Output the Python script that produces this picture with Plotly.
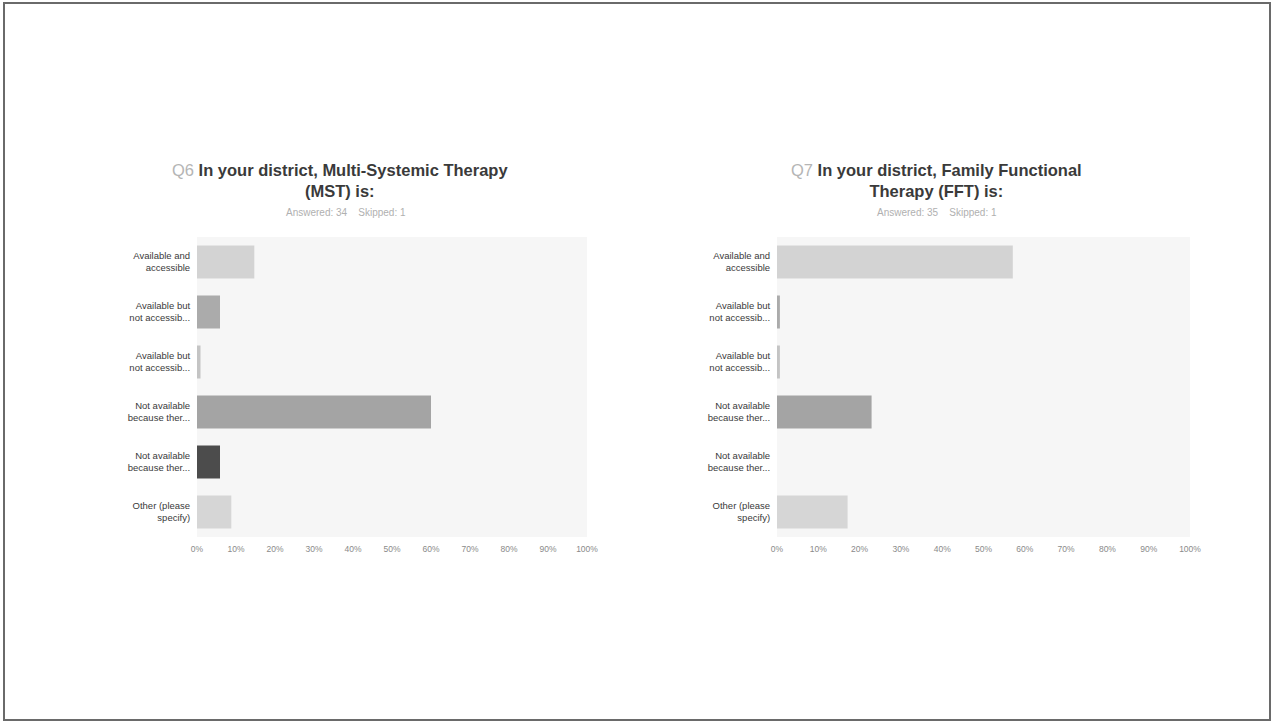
import plotly.graph_objects as go
from plotly.subplots import make_subplots

categories = ["Available and<br>accessible", "Available but<br>not accessib...",
              "Available but<br>not accessib...", "Not available<br>because ther...",
              "Not available<br>because ther...", "Other (please<br>specify)"]
mst_values = [14.7, 5.9, 0.9, 60.0, 5.9, 8.8]
fft_values = [57.1, 0.7, 0.7, 22.9, 0.0, 17.1]
x_ticks = [0, 10, 20, 30, 40, 50, 60, 70, 80, 90, 100]
x_tick_labels = ["0%", "10%", "20%", "30%", "40%", "50%", "60%", "70%", "80%", "90%", "100%"]
mst_colors = ["#d3d3d3", "#ababab", "#c4c4c4", "#a4a4a4", "#4c4c4c", "#d6d6d6"]
fft_colors = ["#d3d3d3", "#ababab", "#c4c4c4", "#a4a4a4", "#4c4c4c", "#d6d6d6"]

W, H = 1273, 723
L, R, T, B = 197, 83, 237, 186
PW, PH = W - L - R, H - T - B


def px(x):
    return (x - L) / PW


def py(y):
    return (H - B - y) / PH


fig = make_subplots(rows=1, cols=2)
ypos = list(range(len(categories)))

fig.add_trace(go.Bar(x=mst_values, y=ypos, orientation="h", width=0.66,
                     marker=dict(color=mst_colors, line=dict(width=0)),
                     showlegend=False), row=1, col=1)
fig.add_trace(go.Bar(x=fft_values, y=ypos, orientation="h", width=0.66,
                     marker=dict(color=fft_colors, line=dict(width=0)),
                     showlegend=False), row=1, col=2)

fig.update_layout(
    width=W, height=H,
    margin=dict(l=L, r=R, t=T, b=B, autoexpand=False),
    paper_bgcolor="white", plot_bgcolor="#f6f6f6",
    font=dict(family="Liberation Sans, Arial, sans-serif"),
    xaxis=dict(domain=[0, px(587)]),
    xaxis2=dict(domain=[px(777), 1]),
)

for ax in ["xaxis", "xaxis2"]:
    fig.layout[ax].update(range=[0, 100], tickvals=x_ticks, ticktext=x_tick_labels,
                          showgrid=False, zeroline=False, showline=False,
                          ticks="outside", ticklen=4, tickcolor="rgba(0,0,0,0)",
                          tickfont=dict(size=8.5, color="#8a8a8a"), fixedrange=True)
for ax in ["yaxis", "yaxis2"]:
    fig.layout[ax].update(range=[len(categories) - 0.5, -0.5], tickvals=ypos,
                          ticktext=categories, showgrid=False, zeroline=False,
                          showline=False, ticks="outside", ticklen=4,
                          tickcolor="rgba(0,0,0,0)",
                          tickfont=dict(size=9.5, color="#3a3a3a"))

anns = [
    dict(x=px(340), y=py(181),
         text="<span style='color:#b5b5b5;font-weight:normal'>Q6</span> <b>In your district, Multi-Systemic Therapy<br>(MST) is:</b>"),
    dict(x=px(936), y=py(181),
         text="<span style='color:#b5b5b5;font-weight:normal'>Q7</span> <b>In your district, Family Functional<br>Therapy (FFT) is:</b>"),
]
for a in anns:
    fig.add_annotation(xref="paper", yref="paper", showarrow=False, align="center",
                       xanchor="center", yanchor="middle",
                       font=dict(size=16.5, color="#3a3a3a"), **a)

subs = [("Answered: 34    Skipped: 1", 346), ("Answered: 35    Skipped: 1", 937)]
for text, cx in subs:
    fig.add_annotation(xref="paper", yref="paper", x=px(cx), y=py(212), text=text,
                       showarrow=False, xanchor="center", yanchor="middle",
                       font=dict(size=10, color="#b0b0b0"))

fig.add_shape(type="rect", xref="paper", yref="paper",
              x0=px(4), x1=px(1270), y0=py(720), y1=py(3),
              line=dict(color="#6a6a6a", width=2), fillcolor="rgba(0,0,0,0)",
              layer="below")

fig.write_html("out.html", config={"displayModeBar": False},
               post_script="document.body.style.margin='0';")
